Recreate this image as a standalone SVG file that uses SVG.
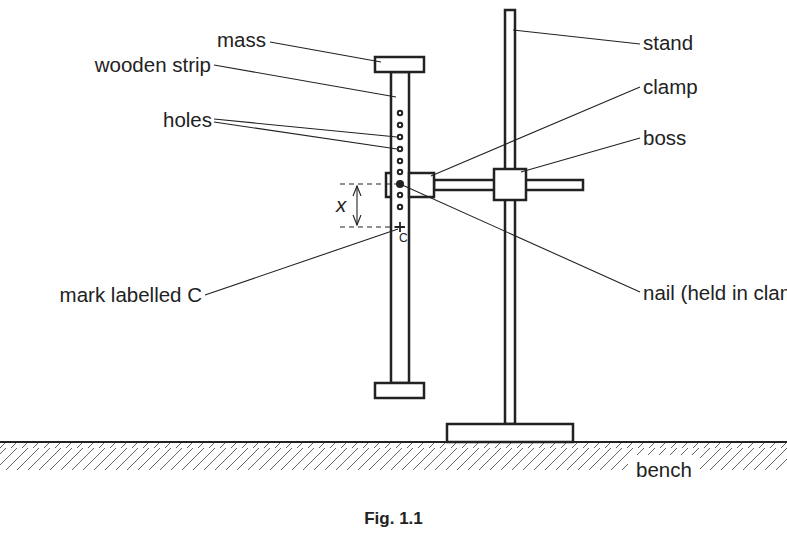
<svg xmlns="http://www.w3.org/2000/svg" width="787" height="540" viewBox="0 0 787 540">
<style>
.s{fill:#fff;stroke:#222;stroke-width:2.5}
.l{stroke:#222;stroke-width:1.1;fill:none}
.t{font-family:"Liberation Sans",Arial,sans-serif;font-size:20.5px;fill:#222}
.h{fill:#fff;stroke:#222;stroke-width:2}
</style>
<defs>
<pattern id="hatch" width="11" height="28" patternUnits="userSpaceOnUse"><path d="M-22,28 L6,0 M-11,28 L17,0 M0,28 L28,0" stroke="#555" stroke-width="0.9"/></pattern>
</defs>
<rect width="787" height="540" fill="#fff"/>
<g id="bench"><rect x="0" y="442" width="787" height="28" fill="url(#hatch)"/><line x1="0" y1="442" x2="787" y2="442" stroke="#222" stroke-width="2"/><rect x="628" y="455" width="72" height="24" fill="#fff"/></g>
<g id="stand"><rect class="s" x="505" y="10" width="10" height="414"/><rect class="s" x="447" y="424" width="126" height="18"/></g>
<g id="clamp-rod"><rect class="s" x="434" y="180" width="149" height="10"/><rect class="s" x="494" y="169" width="32" height="31"/></g>
<g id="strip"><rect class="s" x="386" y="173" width="23" height="24"/><rect class="s" x="391" y="72" width="18" height="311"/><rect class="s" x="375" y="57" width="49" height="15"/><rect class="s" x="375" y="383" width="49" height="15"/><rect class="s" x="409" y="173" width="25" height="24"/>
<g class="h"><circle cx="400" cy="113" r="2.2"/><circle cx="400" cy="125" r="2.2"/><circle cx="400" cy="137" r="2.2"/><circle cx="400" cy="149" r="2.2"/><circle cx="400" cy="161" r="2.2"/><circle cx="400" cy="172" r="2.2"/><circle cx="400" cy="195" r="2.2"/><circle cx="400" cy="207" r="2.2"/></g>
<circle cx="400" cy="184" r="4" fill="#222"/>
<path d="M395,227 H405 M400,222 V232" stroke="#222" stroke-width="1.8"/>
<text x="399" y="242" class="t" style="font-size:12px">C</text></g>
<g id="dimension"><path d="M340,184 H396 M340,227 H396" stroke="#222" stroke-width="1.1" stroke-dasharray="5,4"/><line class="l" x1="357" y1="186" x2="357" y2="225"/><path d="M353,196 L357,186 L361,196 M353,215 L357,225 L361,215" class="l" stroke-width="1.2"/><text x="336" y="212" class="t" font-style="italic">x</text></g>
<g id="connectors" class="l">
<line x1="270" y1="42" x2="381" y2="62"/>
<line x1="214" y1="65" x2="396" y2="97"/>
<line x1="214" y1="119" x2="397" y2="137"/>
<line x1="214" y1="122" x2="397" y2="149"/>
<line x1="513" y1="30" x2="640" y2="44"/>
<line x1="431" y1="176" x2="640" y2="87"/>
<line x1="521" y1="172" x2="640" y2="138"/>
<line x1="400" y1="184" x2="640" y2="292"/>
<line x1="205" y1="295" x2="398" y2="229"/>
</g>
<g id="labels">
<text x="266" y="47" class="t" text-anchor="end">mass</text>
<text x="211" y="72" class="t" text-anchor="end">wooden strip</text>
<text x="212" y="127" class="t" text-anchor="end">holes</text>
<text x="643" y="50" class="t">stand</text>
<text x="643" y="94" class="t">clamp</text>
<text x="643" y="145" class="t">boss</text>
<text x="643" y="300" class="t">nail (held in clamp)</text>
<text x="202" y="302" class="t" text-anchor="end">mark labelled C</text>
<text x="636" y="477" class="t">bench</text>
<text x="393.5" y="524" class="t" font-weight="bold" text-anchor="middle" style="font-size:17px">Fig. 1.1</text>
</g>
</svg>
